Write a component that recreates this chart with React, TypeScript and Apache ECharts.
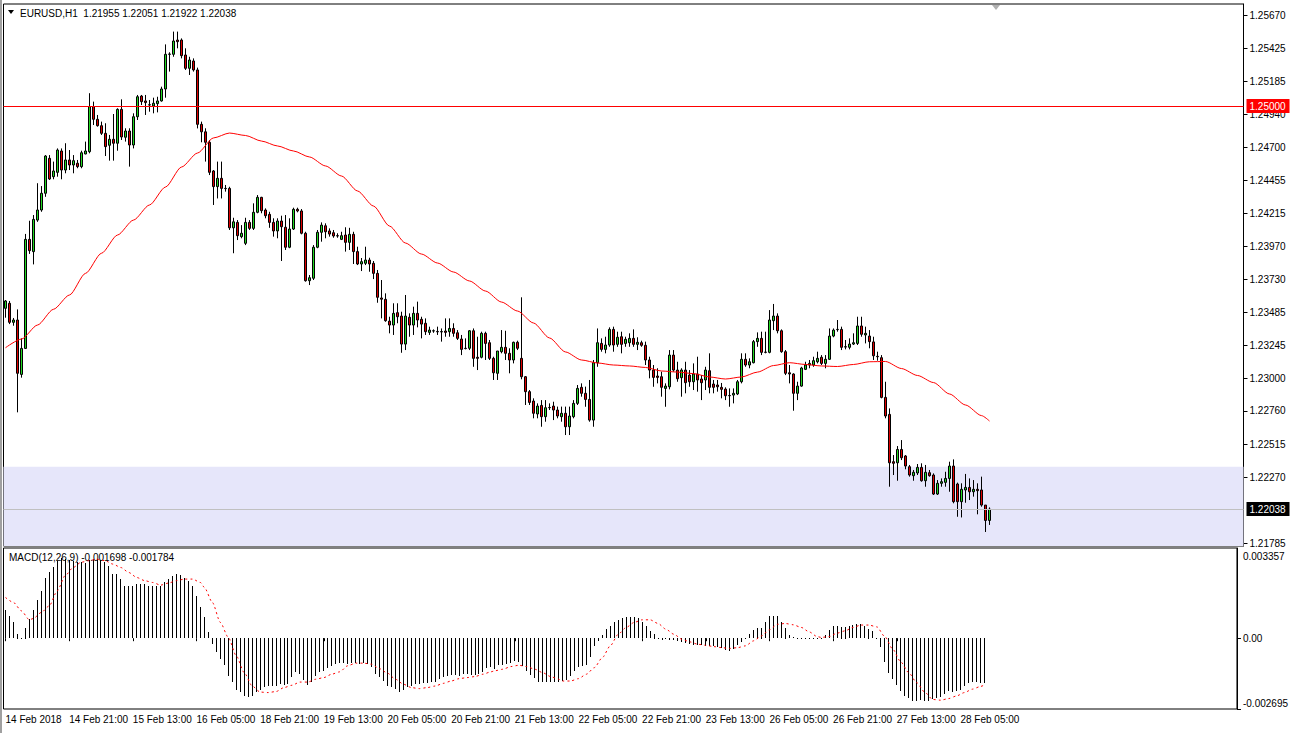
import React, { useEffect, useRef } from "react";
import * as echarts from "echarts";

const symbolTitle = "EURUSD,H1";
const lastOHLC = [1.21955, 1.22051, 1.21922, 1.22038];
const macdTitle = "MACD(12,26,9)";
const macdLast = [-0.001698, -0.001784];
const resistanceLevel = 1.25;
const bidLevel = 1.22038;
const zoneTop = 1.2235;
const priceMin = 1.21767;
const priceMax = 1.25753;
const macdMin = -0.002695;
const macdMax = 0.003433;

const timeLabels = [
  "14 Feb 2018", "14 Feb 21:00", "15 Feb 13:00", "16 Feb 05:00", "18 Feb 21:00", "19 Feb 13:00",
  "20 Feb 05:00", "20 Feb 21:00", "21 Feb 13:00", "22 Feb 05:00", "22 Feb 21:00", "23 Feb 13:00",
  "26 Feb 05:00", "26 Feb 21:00", "27 Feb 13:00", "28 Feb 05:00",
];
const priceTicks = [
  1.2567, 1.25425, 1.25185, 1.2494, 1.247, 1.24455, 1.24215, 1.2397, 1.2373, 1.23485,
  1.23245, 1.23, 1.2276, 1.22515, 1.2227, 1.21785,
];
const macdTicks = [0.003357, 0, -0.002695];

// [open, close, low, high]
const candles = [
  [1.23515,1.23569,1.23446,1.23576],[1.23552,1.23412,1.23399,1.23569],[1.23412,1.23429,1.23387,1.23444],[1.23429,1.23037,1.2275,1.23507],
  [1.23029,1.2322,1.23005,1.23294],[1.2322,1.24022,1.23216,1.24062],[1.24022,1.23939,1.23915,1.24159],[1.23932,1.24169,1.23838,1.24201],
  [1.24164,1.24238,1.24151,1.24435],[1.24238,1.24361,1.24225,1.24414],[1.24361,1.24635,1.24335,1.24642],[1.24618,1.24466,1.24459,1.24642],
  [1.24483,1.24525,1.24464,1.24594],[1.24515,1.24679,1.24483,1.24691],[1.24672,1.24532,1.24464,1.24691],[1.24532,1.24606,1.24508,1.24729],
  [1.24606,1.24569,1.24532,1.24679],[1.24569,1.24601,1.24508,1.24642],[1.24582,1.24557,1.24545,1.24606],[1.24557,1.24659,1.24545,1.24674],
  [1.2465,1.24672,1.24648,1.24741],[1.24667,1.24998,1.24655,1.25097],[1.24998,1.24905,1.24863,1.25035],[1.24905,1.24858,1.24851,1.24937],
  [1.24858,1.24802,1.2479,1.24888],[1.24802,1.24704,1.24635,1.24876],[1.24714,1.24758,1.24601,1.2479],[1.24758,1.24729,1.24601,1.24944],
  [1.24729,1.24978,1.24674,1.24986],[1.24978,1.24775,1.24753,1.25052],[1.24773,1.24819,1.24741,1.24839],[1.24819,1.24716,1.24557,1.24839],
  [1.24716,1.24924,1.24691,1.24949],[1.24924,1.25071,1.249,1.25084],[1.25076,1.25035,1.2501,1.25084],[1.2504,1.25028,1.24937,1.25084],
  [1.2501,1.25012,1.24961,1.25047],[1.25003,1.25023,1.24949,1.25064],[1.2502,1.2504,1.24956,1.25071],[1.2504,1.25128,1.25035,1.25145],
  [1.25128,1.25383,1.25064,1.25456],[1.25383,1.25385,1.25256,1.25398],[1.25383,1.25481,1.25365,1.2555],[1.25488,1.25476,1.25427,1.2555],
  [1.25488,1.25373,1.25353,1.255],[1.25378,1.2528,1.25268,1.25427],[1.2528,1.25341,1.25231,1.25365],[1.25334,1.25268,1.25256,1.25353],
  [1.25268,1.24868,1.24838,1.25285],[1.24868,1.24813,1.24736,1.24888],[1.24813,1.24736,1.24594,1.24839],[1.24736,1.24515,1.24495,1.24753],
  [1.24525,1.2441,1.24275,1.24532],[1.2441,1.24471,1.24323,1.24594],[1.24471,1.24397,1.24323,1.24594],[1.24397,1.24395,1.24373,1.24422],
  [1.24397,1.24107,1.24091,1.24409],[1.24107,1.24151,1.2392,1.24181],[1.24147,1.24049,1.24017,1.24164],[1.24042,1.24067,1.2403,1.24127],
  [1.23993,1.24147,1.2398,1.24181],[1.24147,1.24103,1.24091,1.24164],[1.24103,1.24221,1.24091,1.24287],[1.24221,1.24331,1.24214,1.24348],
  [1.24331,1.24233,1.24214,1.24335],[1.24238,1.24196,1.24177,1.2425],[1.24206,1.24147,1.24107,1.24225],[1.24147,1.24084,1.24042,1.24177],
  [1.24084,1.24157,1.2403,1.24177],[1.24157,1.24115,1.23863,1.24196],[1.24111,1.23964,1.23944,1.24201],[1.23964,1.24098,1.23957,1.24177],
  [1.24098,1.24243,1.24091,1.24255],[1.24243,1.24231,1.24221,1.24255],[1.24231,1.24067,1.24059,1.24245],[1.24067,1.23718,1.23711,1.24078],
  [1.23718,1.2374,1.23686,1.2376],[1.23736,1.23964,1.23723,1.2398],[1.23964,1.24074,1.23957,1.24091],[1.24074,1.24127,1.24005,1.24147],
  [1.24122,1.24078,1.2403,1.2414],[1.24084,1.24061,1.24042,1.24103],[1.24071,1.24047,1.24034,1.24091],[1.24049,1.24047,1.24034,1.24067],
  [1.24022,1.24049,1.24017,1.24078],[1.24054,1.24,1.23932,1.24111],[1.24,1.24059,1.23944,1.24107],[1.24059,1.23932,1.23841,1.24078],
  [1.23932,1.23841,1.23833,1.23968],[1.23841,1.23858,1.23789,1.23885],[1.23846,1.2387,1.23833,1.23968],[1.2387,1.23841,1.23784,1.23887],
  [1.23846,1.23772,1.2373,1.23863],[1.23772,1.23596,1.23556,1.23797],[1.23591,1.23582,1.23441,1.23723],[1.23581,1.23424,1.23416,1.23625],
  [1.23421,1.23392,1.23331,1.23453],[1.23392,1.23478,1.23319,1.23552],[1.23483,1.23453,1.23405,1.23552],[1.23458,1.23252,1.23188,1.2349],
  [1.23252,1.23458,1.23208,1.23613],[1.23449,1.23392,1.23306,1.23478],[1.23392,1.23478,1.23319,1.23527],[1.23478,1.23429,1.23375,1.23564],
  [1.23434,1.23399,1.23294,1.23453],[1.23405,1.23343,1.23319,1.23441],[1.23338,1.23355,1.23319,1.2338],[1.23348,1.2335,1.23335,1.2336],
  [1.23345,1.23342,1.23319,1.2338],[1.23341,1.23344,1.2327,1.23367],[1.23348,1.23338,1.23306,1.23441],[1.23343,1.23367,1.23306,1.23441],
  [1.23367,1.23331,1.23306,1.23405],[1.23335,1.23294,1.23282,1.23355],[1.23289,1.23213,1.23171,1.23319],[1.23219,1.23221,1.23213,1.23294],
  [1.23221,1.2335,1.23208,1.23355],[1.2335,1.23147,1.23085,1.23367],[1.23155,1.23147,1.23061,1.23306],[1.23155,1.23331,1.23147,1.23343],
  [1.23331,1.23257,1.23135,1.23343],[1.23262,1.23147,1.23135,1.23282],[1.23147,1.23041,1.22988,1.23159],[1.23037,1.23201,1.22988,1.23201],
  [1.23196,1.23228,1.23184,1.23355],[1.23228,1.23184,1.23135,1.2335],[1.23184,1.23135,1.23037,1.23221],[1.23135,1.23265,1.2311,1.2327],
  [1.23265,1.23221,1.23208,1.23277],[1.23147,1.23012,1.22993,1.23596],[1.23012,1.22902,1.22804,1.23017],[1.22902,1.22823,1.22804,1.22914],
  [1.22833,1.22743,1.22706,1.22853],[1.22738,1.22796,1.22706,1.22816],[1.22801,1.22718,1.22644,1.2284],[1.22718,1.22784,1.22681,1.2284],
  [1.22784,1.22786,1.22767,1.22816],[1.22796,1.22767,1.22693,1.22828],[1.22767,1.22723,1.22706,1.22792],[1.22718,1.22743,1.22681,1.22792],
  [1.22743,1.22644,1.22583,1.22792],[1.22644,1.22723,1.22583,1.22792],[1.22718,1.22816,1.22706,1.2284],[1.22816,1.22926,1.22804,1.22951],
  [1.22934,1.2289,1.22865,1.22963],[1.2289,1.22845,1.22791,1.22939],[1.22845,1.22693,1.22681,1.22988],[1.22693,1.23115,1.22644,1.23135],
  [1.23115,1.23262,1.23085,1.23367],[1.23257,1.23213,1.23196,1.23294],[1.23213,1.23245,1.23184,1.23306],[1.23245,1.2336,1.23232,1.23375],
  [1.2336,1.23245,1.23196,1.2338],[1.2325,1.23302,1.23232,1.23343],[1.23306,1.2325,1.23184,1.23343],[1.23257,1.23287,1.23232,1.23306],
  [1.23262,1.23294,1.23232,1.23331],[1.23294,1.2325,1.23232,1.2336],[1.2325,1.23265,1.23208,1.23302],[1.23262,1.23243,1.23232,1.23277],
  [1.23243,1.23135,1.23098,1.2327],[1.23135,1.23061,1.23,1.23159],[1.23061,1.23007,1.22938,1.23098],[1.23017,1.23007,1.22963,1.23074],
  [1.23012,1.22934,1.22865,1.23049],[1.22926,1.22943,1.22791,1.22963],[1.22938,1.23171,1.22919,1.23208],[1.23171,1.23061,1.23049,1.23208],
  [1.23061,1.22997,1.22975,1.23122],[1.23005,1.23061,1.22865,1.23074],[1.23061,1.22968,1.2289,1.23122],[1.23024,1.22975,1.22938,1.23061],
  [1.22975,1.23032,1.22914,1.2311],[1.23032,1.22988,1.22902,1.23159],[1.22995,1.22968,1.2284,1.23024],[1.22988,1.23061,1.22914,1.23085],
  [1.23056,1.22934,1.2289,1.23184],[1.22958,1.22934,1.2289,1.22988],[1.22951,1.22938,1.22902,1.22988],[1.22934,1.22919,1.22853,1.22966],
  [1.22921,1.22872,1.2284,1.22934],[1.22874,1.22872,1.22791,1.22926],[1.22877,1.2289,1.22816,1.22926],[1.22885,1.22975,1.22877,1.22988],
  [1.22975,1.2314,1.22963,1.23184],[1.2314,1.23098,1.23085,1.23184],[1.23098,1.23122,1.23074,1.23147],[1.23115,1.2327,1.2311,1.23282],
  [1.2327,1.23294,1.23232,1.23338],[1.23294,1.23191,1.23171,1.23343],[1.23193,1.23191,1.23184,1.23343],[1.23191,1.23429,1.23184,1.23502],
  [1.23424,1.23458,1.23355,1.23547],[1.23458,1.2335,1.23331,1.23478],[1.2335,1.23196,1.23188,1.2336],[1.23196,1.23037,1.23024,1.23208],
  [1.23041,1.23032,1.22963,1.23098],[1.23032,1.2289,1.22762,1.23037],[1.2289,1.22943,1.2284,1.22975],[1.22943,1.23076,1.22938,1.23085],
  [1.23066,1.23098,1.23061,1.23122],[1.23098,1.2311,1.23074,1.23135],[1.23098,1.2313,1.23085,1.23159],[1.23122,1.23147,1.2311,1.23196],
  [1.23155,1.2311,1.23098,1.23171],[1.2311,1.2314,1.23074,1.23171],[1.2314,1.23311,1.23135,1.23367],[1.23311,1.23355,1.23302,1.23367],
  [1.23358,1.2336,1.23343,1.23429],[1.2336,1.23228,1.23208,1.2338],[1.2323,1.23233,1.23213,1.23282],[1.23228,1.23252,1.23213,1.23294],
  [1.23252,1.23262,1.23245,1.23331],[1.23257,1.23385,1.23245,1.23453],[1.23385,1.23324,1.23306,1.23453],[1.23319,1.23331,1.23257,1.2338],
  [1.23311,1.2327,1.23221,1.23355],[1.23268,1.23166,1.23135,1.23306],[1.23162,1.23159,1.2313,1.23196],[1.23152,1.2286,1.22853,1.23171],
  [1.2286,1.22723,1.22706,1.22975],[1.22735,1.22379,1.22203,1.22779],[1.22387,1.22375,1.22289,1.22436],[1.22379,1.22477,1.22247,1.22502],
  [1.22477,1.22416,1.22399,1.22546],[1.22429,1.22355,1.22331,1.22436],[1.2235,1.22289,1.22277,1.22363],[1.22284,1.22309,1.22247,1.22326],
  [1.22304,1.22345,1.22289,1.2237],[1.22345,1.22247,1.2224,1.22375],[1.22247,1.22309,1.22203,1.22363],[1.22306,1.22284,1.22277,1.22326],
  [1.22289,1.22149,1.22142,1.22301],[1.22149,1.22228,1.22142,1.22252],[1.22228,1.2224,1.22203,1.22264],[1.22235,1.22264,1.22203,1.22313],
  [1.22264,1.22355,1.22166,1.22387],[1.22355,1.22093,1.22081,1.22404],[1.22223,1.22093,1.21982,1.22233],[1.22093,1.22184,1.21977,1.22228],
  [1.22179,1.22198,1.22085,1.22297],[1.22198,1.22166,1.22105,1.22264],[1.22166,1.22184,1.2213,1.22252],[1.22184,1.22174,1.22,1.22228],
  [1.22179,1.22068,1.22056,1.22277],[1.22068,1.21955,1.2187,1.22068],[1.21955,1.22038,1.21922,1.22051],
];

// moving average readings: [bar index, value]
const maPoints = [
  [0,1.23225],[4,1.23289],[8,1.23392],[12,1.23508],[16,1.23613],[20,1.23772],[24,1.2392],[28,1.24054],
  [32,1.24164],[36,1.24275],[40,1.24407],[44,1.24554],[48,1.24657],[52,1.24768],[56,1.24804],[60,1.24786],
  [64,1.24745],[68,1.24709],[72,1.24672],[76,1.24628],[80,1.24562],[84,1.24488],[88,1.24378],[92,1.24267],
  [96,1.2412],[100,1.23995],[104,1.23914],[108,1.23848],[112,1.23782],[116,1.23716],[120,1.23642],[124,1.23561],
  [128,1.23495],[132,1.23407],[136,1.23297],[140,1.23194],[144,1.23135],[148,1.23113],[152,1.23098],[156,1.23091],
  [160,1.2308],[164,1.23054],[168,1.23046],[172,1.23035],[176,1.2301],[180,1.22995],[184,1.2301],[188,1.23046],
  [192,1.23094],[196,1.23115],[200,1.23102],[204,1.23091],[208,1.23087],[212,1.23102],[216,1.23122],[220,1.23124],
  [224,1.23072],[228,1.23021],[232,1.22969],[236,1.22885],[240,1.22804],[244,1.22726],[246,1.22686],
];

const macdHist = [
  0.00108,0.000852,0.000623,0.000178,0.000025,0.000407,0.000724,0.00108,0.001462,0.001805,
  0.002288,0.002529,0.002695,0.002949,0.003038,0.003012,0.002987,0.002949,0.002911,0.002885,
  0.00286,0.002987,0.003012,0.003012,0.002987,0.002911,0.002758,0.00244,0.00244,0.00225,
  0.001995,0.00197,0.00197,0.002059,0.002059,0.002059,0.001995,0.00197,0.00197,0.00197,
  0.002123,0.00225,0.002377,0.00244,0.002402,0.002275,0.002186,0.001995,0.001589,0.001169,
  0.000788,0.000241,-0.000229,-0.000521,-0.000801,-0.00103,-0.001462,-0.00169,-0.001983,-0.002072,
  -0.002199,-0.002262,-0.002224,-0.002072,-0.00197,-0.001881,-0.001843,-0.001818,-0.001818,-0.001754,
  -0.001792,-0.001754,-0.0015,-0.001309,-0.001373,-0.001589,-0.001792,-0.001665,-0.001436,-0.001309,
  -0.001246,-0.001157,-0.00108,-0.000991,-0.000953,-0.000953,-0.000991,-0.000953,-0.000953,-0.000991,
  -0.000953,-0.000991,-0.001118,-0.001373,-0.0015,-0.001627,-0.001818,-0.001881,-0.001945,-0.002046,
  -0.00197,-0.001881,-0.001818,-0.001754,-0.001754,-0.001716,-0.001716,-0.00169,-0.001665,-0.001563,
  -0.0015,-0.001436,-0.001411,-0.001411,-0.001436,-0.001373,-0.001373,-0.001411,-0.001411,-0.001373,
  -0.001309,-0.001157,-0.001118,-0.001195,-0.00103,-0.00103,-0.000991,-0.000953,-0.000864,-0.000928,
  -0.00108,-0.001246,-0.001411,-0.001538,-0.001665,-0.001665,-0.001665,-0.001665,-0.001665,-0.001665,
  -0.001627,-0.001589,-0.001436,-0.001246,-0.001118,-0.001055,-0.00103,-0.000737,-0.000292,-0.000102,
  0.000114,0.000343,0.00047,0.000623,0.000699,0.00075,0.000788,0.000788,0.000788,0.00075,
  0.000623,0.00047,0.00028,0.000178,0.00002,-0.000064,-0.000038,-0.000064,-0.000076,-0.000102,
  -0.000165,-0.000191,-0.000229,-0.000254,-0.000254,-0.000254,-0.000292,-0.000318,-0.000318,-0.000356,
  -0.000394,-0.000445,-0.000483,-0.000419,-0.000254,-0.000165,-0.000038,0.000153,0.000318,0.000407,
  0.000407,0.000623,0.000826,0.000852,0.000826,0.000623,0.000407,0.000114,0.00003,0.00001,
  -0.00001,0.00001,0.000005,-0.00001,0.00002,-0.00004,0.000114,0.000318,0.00047,0.00047,
  0.000445,0.000445,0.00047,0.000496,0.000534,0.000534,0.00047,0.000369,0.00028,0.000025,
  -0.000356,-0.000928,-0.001347,-0.001563,-0.001792,-0.002034,-0.002199,-0.0023,-0.00239,-0.00239,
  -0.002351,-0.00239,-0.00239,-0.002326,-0.0023,-0.002262,-0.002135,-0.002034,-0.002046,-0.002034,
  -0.00197,-0.001818,-0.001716,-0.00169,-0.00169,-0.001716,-0.001698,
];

// signal line readings: [bar index, value]
const signalPoints = [
  [0,0.00155],[2,0.00136],[4,0.00104],[6,0.0007],[7,0.00075],[9,0.00098],[11,0.00123],[13,0.0018],
  [15,0.00238],[17,0.00269],[19,0.00289],[21,0.00295],[23,0.00301],[25,0.00295],[27,0.00282],[29,0.00269],
  [31,0.0025],[33,0.00231],[35,0.00219],[37,0.00212],[39,0.00202],[41,0.0021],[43,0.00219],[45,0.00225],
  [47,0.00225],[49,0.00212],[50,0.00193],[52,0.00136],[54,0.0006],[56,0.00003],[58,-0.00067],[60,-0.00131],
  [62,-0.00182],[64,-0.00205],[66,-0.00207],[68,-0.00203],[70,-0.00188],[72,-0.00179],[74,-0.00167],[76,-0.00167],
  [78,-0.00156],[80,-0.0015],[82,-0.00137],[84,-0.00128],[86,-0.00105],[88,-0.00095],[90,-0.00095],[92,-0.00099],
  [94,-0.00116],[96,-0.00133],[98,-0.00156],[100,-0.00175],[102,-0.00188],[104,-0.00192],[106,-0.00188],[108,-0.00182],
  [110,-0.00172],[112,-0.00163],[114,-0.00154],[116,-0.0015],[118,-0.00146],[120,-0.00137],[122,-0.00128],[123,-0.00124],
  [125,-0.00118],[127,-0.00108],[129,-0.00103],[131,-0.00108],[133,-0.00118],[135,-0.00131],[137,-0.00146],[139,-0.00156],
  [140,-0.00163],[142,-0.00163],[144,-0.00154],[146,-0.00137],[148,-0.00112],[150,-0.00074],[152,-0.00029],[154,0.00015],
  [156,0.00041],[158,0.0006],[160,0.0007],[162,0.0007],[164,0.00056],[166,0.00034],[168,0.00015],[170,-0.00004],
  [172,-0.00014],[174,-0.00023],[176,-0.00027],[178,-0.00032],[180,-0.00036],[182,-0.00039],[184,-0.00036],[186,-0.00029],
  [188,-0.0001],[190,0.00009],[192,0.00032],[194,0.00053],[196,0.00056],[198,0.00051],[200,0.00041],[202,0.00024],
  [204,0.00006],[205,0.00003],[207,0.00006],[209,0.00019],[211,0.00028],[213,0.00041],[215,0.0005],[217,0.0005],
  [219,0.00043],[221,0.00006],[223,-0.00042],[225,-0.0009],[227,-0.00131],[229,-0.00169],[231,-0.00205],[233,-0.00233],
  [235,-0.00236],[237,-0.0023],[239,-0.0022],[241,-0.00207],[243,-0.00194],[245,-0.00184],[246,-0.001784],
];

const BARS_ON_SCREEN = 310;
const FONT = "'Liberation Sans', Arial, sans-serif";
const BULL = "#22d822";
const BEAR = "#dd0000";
const GRID_LEFT = 3.5;
const GRID_WIDTH = 1240;

// horizontal price levels: value, line colour, label box colour
const levels = [
  { value: resistanceLevel, line: "#ff0000", box: "#ff0000" },
  { value: bidLevel, line: "#c0c0c0", box: "#000000" },
];

function buildOption() {
  const categories = Array.from({ length: BARS_ON_SCREEN }, (_, i) => String(i));
  const isLabelIdx = (i: number) => i % 16 === 0 && i / 16 < timeLabels.length;
  const histData = macdHist.map((v, i) => [i, v]);
  const levelData = levels.map((l, k) => [0, l.value, k]);
  return {
    animation: false,
    backgroundColor: "#ffffff",
    textStyle: { fontFamily: FONT },
    grid: [
      { left: GRID_LEFT, top: 4, width: GRID_WIDTH, height: 542, show: true, borderColor: "#000", borderWidth: 1, backgroundColor: "transparent" },
      { left: GRID_LEFT, top: 548, width: GRID_WIDTH, height: 161, show: true, borderColor: "#000", borderWidth: 1, backgroundColor: "transparent" },
    ],
    xAxis: [
      {
        type: "category", gridIndex: 0, data: categories, boundaryGap: true,
        axisLine: { show: false }, axisTick: { show: false }, axisLabel: { show: false }, splitLine: { show: false },
      },
      {
        type: "category", gridIndex: 1, data: categories, boundaryGap: true,
        axisLine: { show: false },
        axisTick: { show: true, alignWithLabel: true, interval: (i: number) => isLabelIdx(i), length: 3, lineStyle: { color: "#000" } },
        axisLabel: {
          interval: (i: number) => isLabelIdx(i),
          formatter: (_v: string, i: number) => (isLabelIdx(i) ? timeLabels[i / 16] : ""),
          align: "left", margin: 5, fontSize: 10, color: "#000", fontFamily: FONT,
        },
        splitLine: { show: false },
      },
    ],
    yAxis: [
      {
        type: "value", gridIndex: 0, position: "right", min: priceMin, max: priceMax,
        axisLine: { show: true, lineStyle: { color: "#000" } },
        axisTick: { show: true, length: 4, lineStyle: { color: "#000" }, customValues: priceTicks },
        axisLabel: { customValues: priceTicks, formatter: (v: number) => v.toFixed(5), margin: 6, fontSize: 10, color: "#000", fontFamily: FONT },
        splitLine: { show: false },
      },
      {
        type: "value", gridIndex: 1, position: "right", min: macdMin, max: macdMax,
        axisLine: { show: true, lineStyle: { color: "#000" } },
        axisTick: { show: true, length: 4, lineStyle: { color: "#000" }, customValues: [0, macdTicks[2]] },
        axisLabel: {
          customValues: macdTicks,
          formatter: (v: number) => {
            if (v === 0) return "0.00";
            if (v > 0) return "{t|" + v.toFixed(6) + "}";
            return "{b|" + v.toFixed(6) + "}";
          },
          rich: {
            t: { padding: [14, 0, 0, 0], fontSize: 10, color: "#000", fontFamily: FONT },
            b: { padding: [0, 0, 12, 0], fontSize: 10, color: "#000", fontFamily: FONT },
          },
          margin: 6, fontSize: 10, color: "#000", fontFamily: FONT,
        },
        splitLine: { show: false },
      },
    ],
    series: [
      {
        type: "candlestick", xAxisIndex: 0, yAxisIndex: 0, data: candles, barWidth: 2,
        itemStyle: { color: BULL, color0: BEAR, borderColor: "#000", borderColor0: "#000", borderColorDoji: "#000", borderWidth: 1 },
        markArea: {
          silent: true,
          itemStyle: { color: "#e6e6fa" },
          data: [[{ yAxis: zoneTop }, { yAxis: priceMin }]],
        },
      },
      {
        type: "line", xAxisIndex: 0, yAxisIndex: 0, data: maPoints, symbol: "none",
        smooth: 0.25, smoothMonotone: "x",
        lineStyle: { color: "#ff0000", width: 1 }, z: 3,
      },
      {
        type: "custom", xAxisIndex: 0, yAxisIndex: 0, data: levelData, clip: false, silent: true, z: 4,
        encode: { x: 0, y: 1 },
        renderItem: (params: any, api: any) => {
          const v = api.value(1);
          const lv = levels[api.value(2)];
          const cs = params.coordSys;
          const y = Math.round(api.coord([0, v])[1]) + 0.5;
          const right = cs.x + cs.width;
          return {
            type: "group",
            children: [
              { type: "line", shape: { x1: cs.x, y1: y, x2: right, y2: y }, style: { stroke: lv.line, lineWidth: 1 } },
              { type: "rect", shape: { x: right + 3, y: y - 7.5, width: 43, height: 14 }, style: { fill: lv.box } },
              { type: "text", x: right + 6, y: y, style: { text: v.toFixed(5), fill: "#fff", font: "10px " + FONT, verticalAlign: "middle" } },
            ],
          };
        },
      },
      {
        type: "custom", xAxisIndex: 1, yAxisIndex: 1, data: histData,
        encode: { x: 0, y: 1 },
        renderItem: (_params: any, api: any) => {
          const i = api.value(0);
          const v = api.value(1);
          const p = api.coord([i, v]);
          const z = api.coord([i, 0]);
          const top = Math.round(Math.min(p[1], z[1]));
          const h = Math.max(1, Math.round(Math.abs(p[1] - z[1])));
          return {
            type: "rect",
            shape: { x: Math.floor(p[0]), y: top, width: 1, height: h },
            style: { fill: "#000" },
          };
        },
      },
      {
        type: "line", xAxisIndex: 1, yAxisIndex: 1, data: signalPoints, symbol: "none",
        smooth: 0.25, smoothMonotone: "x",
        lineStyle: { color: "#ff0000", width: 1, type: [2, 3] }, z: 3,
      },
    ],
    graphic: [
      { type: "rect", shape: { x: 0, y: 0, width: 2, height: 733 }, style: { fill: "#a0a0a0" } },
      { type: "polygon", shape: { points: [[8, 10], [14, 10], [11, 14]] }, style: { fill: "#000" } },
      {
        type: "text", x: 20, y: 13,
        style: {
          text: symbolTitle + "  " + lastOHLC.map((v) => v.toFixed(5)).join(" "),
          fill: "#000", font: "10px " + FONT, verticalAlign: "middle",
        },
      },
      {
        type: "text", x: 9, y: 557,
        style: {
          text: macdTitle + " " + macdLast.map((v) => v.toFixed(6)).join(" "),
          fill: "#000", font: "10px " + FONT, verticalAlign: "middle",
        },
      },
      { type: "polygon", shape: { points: [[992, 5], [1000, 5], [996, 10]] }, style: { fill: "#b0b0b0" } },
    ],
  };
}

export default function App() {
  const ref = useRef<HTMLDivElement>(null);
  useEffect(() => {
    if (!ref.current) return;
    const chart = echarts.init(ref.current, null, { renderer: "svg" });
    chart.setOption(buildOption() as any);
    return () => chart.dispose();
  }, []);
  return (
    <div
      ref={ref}
      style={{ position: "fixed", left: 0, top: 0, width: 1291, height: 733, background: "#fff" }}
    />
  );
}
